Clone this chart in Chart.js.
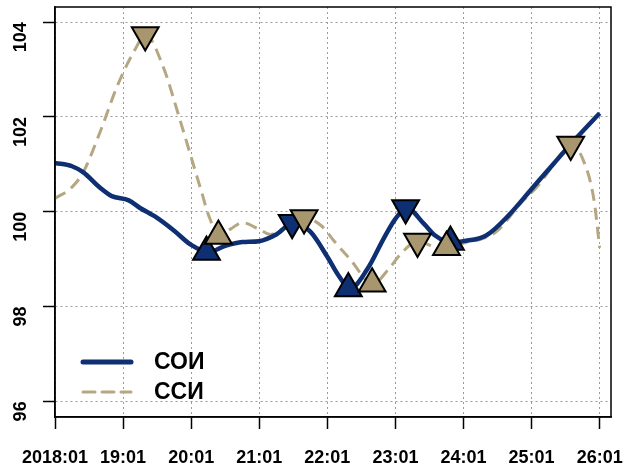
<!DOCTYPE html>
<html>
<head>
<meta charset="utf-8">
<script src="https://cdn.jsdelivr.net/npm/chart.js@4"></script>
<style>
  html, body { margin: 0; padding: 0; background: #fff; }
  #wrap { width: 623px; height: 468px; }
</style>
</head>
<body>
<div id="wrap"><canvas id="line-chart"></canvas></div>
<script>
// months counted from 2018:01
const tickMonths = [0, 12, 24, 36, 48, 60, 72, 84, 96];
const tickLabels = ["2018:01", "19:01", "20:01", "21:01", "22:01", "23:01", "24:01", "25:01", "26:01"];
const yTicks = [96, 98, 100, 102, 104];

const seriesNames = ["СОИ", "ССИ"];

const soiMonths = [0, 3, 5, 8, 10, 13, 15, 18, 21, 24, 27, 30, 33, 36, 39, 42, 45, 48, 50, 52, 55, 58, 60, 62, 65, 67, 70, 72, 76, 80, 84, 88, 92, 96];
const soiValues = [101.03, 100.96, 100.83, 100.5, 100.33, 100.24, 100.08, 99.87, 99.6, 99.3, 99.15, 99.28, 99.36, 99.38, 99.52, 99.77, 99.58, 99.05, 98.65, 98.38, 98.78, 99.45, 99.85, 100.08, 99.75, 99.5, 99.35, 99.38, 99.5, 99.93, 100.48, 101.03, 101.57, 102.08];

const ssiMonths = [0, 3, 5, 8, 11, 14, 16, 19, 22, 24, 26, 27, 29, 31, 33, 36, 38, 40, 44, 47, 49, 52, 56, 59, 61, 64, 67, 69, 73, 75, 78, 82, 85, 87, 89, 91, 93, 95, 96];
const ssiValues = [100.28, 100.52, 100.84, 101.7, 102.66, 103.4, 103.73, 103.08, 101.95, 101.15, 100.35, 99.95, 99.5, 99.64, 99.77, 99.63, 99.52, 99.63, 99.87, 99.7, 99.41, 99.0, 98.48, 98.82, 99.12, 99.38, 99.26, 99.25, 99.37, 99.42, 99.6, 100.17, 100.53, 100.85, 101.2, 101.42, 101.12, 100.25, 99.24];

// turning points
const soiTroughMonths = [26.7, 51.7, 69.7];
const soiTroughValues = [99.15, 98.38, 99.36];
const soiPeakMonths = [41.8, 61.8];
const soiPeakValues = [99.77, 100.08];
const ssiTroughMonths = [28.8, 55.9, 69];
const ssiTroughValues = [99.49, 98.48, 99.25];
const ssiPeakMonths = [15.9, 43.9, 63.9, 90.9];
const ssiPeakValues = [103.73, 99.87, 99.37, 101.42];

const navy = "#0f2f73";
const tan = "#b5a782";
const tanFill = "#a8976e";

function pts(xs, ys) {
  return xs.map((x, i) => ({x: x, y: ys[i]}));
}

function markers(xs, ys, color, down, order) {
  return {
    data: pts(xs, ys),
    showLine: false,
    pointStyle: "triangle",
    pointRotation: down ? 180 : 0,
    pointRadius: 15.5,
    pointBackgroundColor: color,
    pointBorderColor: "#000",
    pointBorderWidth: 2,
    order: order
  };
}

const boxAndLegend = {
  id: "boxAndLegend",
  afterDraw(chart) {
    const ctx = chart.ctx;
    const a = chart.chartArea;
    ctx.save();
    ctx.strokeStyle = "#000";
    ctx.lineWidth = 1.5;
    ctx.strokeRect(a.left, a.top, a.right - a.left, a.bottom - a.top);

    const rows = [
      {label: seriesNames[0], color: navy, width: 5, dash: []},
      {label: seriesNames[1], color: tan, width: 3, dash: [12, 7]}
    ];
    ctx.font = "bold 23px 'Liberation Sans', Arial, sans-serif";
    ctx.textBaseline = "middle";
    rows.forEach((r, i) => {
      const y = 362 + i * 30;
      ctx.beginPath();
      ctx.lineCap = "round";
      ctx.setLineDash(r.dash);
      ctx.strokeStyle = r.color;
      ctx.lineWidth = r.width;
      ctx.moveTo(83, y);
      ctx.lineTo(131, y);
      ctx.stroke();
      ctx.setLineDash([]);
      ctx.fillStyle = "#000";
      ctx.fillText(r.label, 154, y + 1);
    });
    ctx.restore();
  }
};

new Chart(document.getElementById("line-chart"), {
  type: "line",
  data: {
    datasets: [
      markers(ssiPeakMonths, ssiPeakValues, tanFill, true, 1),
      markers(ssiTroughMonths, ssiTroughValues, tanFill, false, 1),
      markers(soiPeakMonths, soiPeakValues, navy, true, 2),
      markers(soiTroughMonths, soiTroughValues, navy, false, 2),
      {
        label: seriesNames[0],
        data: pts(soiMonths, soiValues),
        borderColor: navy,
        borderWidth: 4.5,
        pointRadius: 0,
        cubicInterpolationMode: "monotone",
        order: 3
      },
      {
        label: seriesNames[1],
        data: pts(ssiMonths, ssiValues),
        borderColor: tan,
        borderWidth: 3,
        borderDash: [12, 7],
        pointRadius: 0,
        cubicInterpolationMode: "monotone",
        order: 4
      }
    ]
  },
  options: {
    responsive: true,
    maintainAspectRatio: false,
    animation: false,
    layout: { autoPadding: false, padding: { top: 7, right: 12, left: 0, bottom: 0 } },
    plugins: {
      legend: { display: false },
      tooltip: { enabled: false }
    },
    scales: {
      x: {
        type: "linear",
        min: 0,
        max: 98,
        afterBuildTicks: (s) => { s.ticks = tickMonths.map(v => ({value: v})); },
        afterFit: (s) => { s.height = 51; s.paddingLeft = 0; s.paddingRight = 0; },
        ticks: {
          callback: (v) => tickLabels[tickMonths.indexOf(v)],
          color: "#000",
          font: { family: "'Liberation Sans', Arial, sans-serif", size: 18, weight: "bold" },
          padding: 18,
          maxRotation: 0,
          autoSkip: false
        },
        grid: {
          color: "#9a9a9a",
          lineWidth: 1,
          tickLength: 12,
          tickColor: "#000",
          tickWidth: 1.5
        },
        border: { display: true, color: "#000", width: 1.5, dash: [2, 3] }
      },
      y: {
        min: 95.67,
        max: 104.32,
        afterBuildTicks: (s) => { s.ticks = yTicks.map(v => ({value: v})); },
        afterFit: (s) => { s.width = 55; s.paddingTop = 0; s.paddingBottom = 0; },
        ticks: {
          color: "#000",
          font: { family: "'Liberation Sans', Arial, sans-serif", size: 18, weight: "bold" },
          padding: 22,
          minRotation: 90,
          maxRotation: 90
        },
        grid: {
          color: "#9a9a9a",
          lineWidth: 1,
          tickLength: 12,
          tickColor: "#000",
          tickWidth: 1.5
        },
        border: { display: true, color: "#000", width: 1.5, dash: [2, 3] }
      }
    }
  },
  plugins: [boxAndLegend]
});
</script>
</body>
</html>
